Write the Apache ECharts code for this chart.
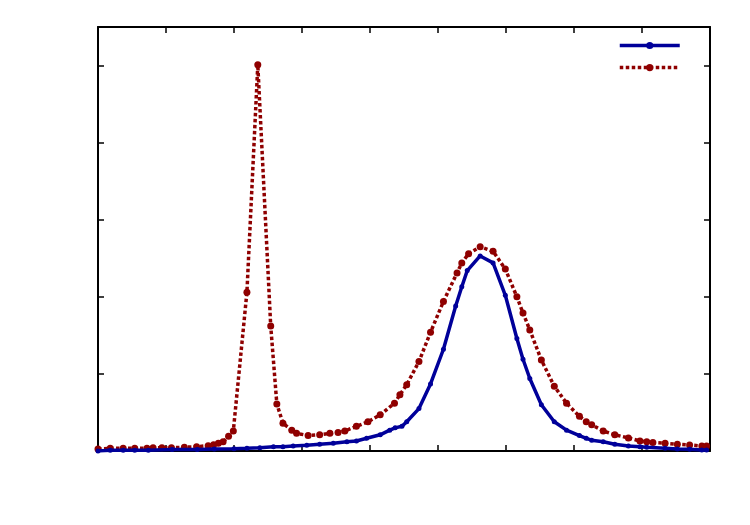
<!DOCTYPE html>
<html>
<head>
<meta charset="utf-8">
<script src="https://cdn.jsdelivr.net/npm/echarts@6/dist/echarts.min.js"></script>
<style>
  html, body { margin: 0; padding: 0; background: #fff; }
  #main { width: 750px; height: 525px; }
</style>
</head>
<body>
<div id="main"></div>
<script>
// blue solid curve, [x, y]
var blueData = [
  [0, 0.00], [0.18, 0.01], [0.37, 0.01], [0.54, 0.01], [0.74, 0.01], [1.09, 0.02],
  [1.46, 0.02], [1.71, 0.025], [2.0, 0.03], [2.19, 0.035], [2.38, 0.043], [2.58, 0.056],
  [2.72, 0.056], [2.87, 0.065], [3.07, 0.074], [3.26, 0.087], [3.46, 0.10], [3.66, 0.12],
  [3.80, 0.13], [3.95, 0.165], [4.15, 0.21], [4.29, 0.27], [4.37, 0.30], [4.47, 0.32],
  [4.54, 0.38], [4.72, 0.55], [4.89, 0.87], [5.08, 1.32], [5.26, 1.88], [5.35, 2.13],
  [5.43, 2.34], [5.62, 2.53], [5.81, 2.44], [5.99, 2.02], [6.16, 1.46], [6.25, 1.19],
  [6.35, 0.94], [6.52, 0.60], [6.71, 0.38], [6.89, 0.27], [7.08, 0.20], [7.18, 0.165],
  [7.26, 0.14], [7.43, 0.12], [7.60, 0.087], [7.80, 0.065], [7.97, 0.056], [8.07, 0.048],
  [8.34, 0.035], [8.52, 0.026], [8.70, 0.022], [8.88, 0.013], [8.95, 0.013]
];
// red dotted curve, [x, y]
var redData = [
  [0.00, 0.026], [0.18, 0.035], [0.37, 0.035], [0.54, 0.035], [0.72, 0.035], [0.81, 0.043],
  [0.94, 0.043], [1.08, 0.043], [1.27, 0.048], [1.45, 0.056], [1.62, 0.069], [1.70, 0.082],
  [1.77, 0.10], [1.84, 0.12], [1.92, 0.19], [1.99, 0.26], [2.19, 2.06], [2.35, 5.01],
  [2.54, 1.62], [2.63, 0.61], [2.72, 0.36], [2.85, 0.27], [2.92, 0.23], [3.09, 0.20],
  [3.26, 0.21], [3.41, 0.23], [3.53, 0.24], [3.63, 0.26], [3.80, 0.32], [3.97, 0.38],
  [4.15, 0.47], [4.36, 0.62], [4.44, 0.73], [4.54, 0.86], [4.72, 1.16], [4.89, 1.54],
  [5.08, 1.94], [5.28, 2.31], [5.35, 2.44], [5.45, 2.56], [5.62, 2.65], [5.81, 2.59],
  [5.99, 2.36], [6.16, 2.00], [6.25, 1.79], [6.35, 1.57], [6.52, 1.18], [6.71, 0.84],
  [6.89, 0.62], [7.08, 0.45], [7.18, 0.38], [7.26, 0.34], [7.43, 0.26], [7.60, 0.21],
  [7.80, 0.17], [7.97, 0.13], [8.07, 0.12], [8.16, 0.11], [8.34, 0.10], [8.52, 0.087],
  [8.70, 0.078], [8.88, 0.065], [8.95, 0.065]
];
var seriesNames = ['curve1', 'curve2'];

var myChart = echarts.init(document.getElementById('main'));

function frameAxis(pos, isX) {
  var ax = {
    type: 'value',
    position: pos,
    min: 0,
    max: isX ? 9 : 5.5,
    interval: 1,
    axisLine: { show: true, onZero: false, lineStyle: { color: '#000', width: 2 } },
    axisTick: { show: true, inside: true, length: 6, lineStyle: { color: '#000', width: 1.5 } },
    axisLabel: { show: false },
    splitLine: { show: false }
  };
  return ax;
}

var option = {
  animation: false,
  backgroundColor: '#fff',
  grid: { left: 98, right: 40, top: 27, bottom: 74 },
  legend: {
    left: 613,
    top: 36,
    orient: 'vertical',
    itemWidth: 60,
    itemHeight: 9,
    itemGap: 14,
    lineStyle: { width: 3.5 },
    formatter: function () { return ''; },
    data: seriesNames
  },
  xAxis: [frameAxis('bottom', true), frameAxis('top', true)],
  yAxis: [frameAxis('left', false), frameAxis('right', false)],
  series: [
    {
      name: seriesNames[0],
      type: 'line',
      data: blueData,
      symbol: 'circle',
      symbolSize: 5,
      itemStyle: { color: '#00009a' },
      lineStyle: { color: '#00009a', width: 3.5 },
      z: 3
    },
    {
      name: seriesNames[1],
      type: 'line',
      data: redData,
      symbol: 'circle',
      symbolSize: 7,
      itemStyle: { color: '#8f0000' },
      lineStyle: { color: '#8f0000', width: 3.5, type: [3.5, 2.5], cap: 'butt' },
      z: 2
    }
  ]
};

myChart.setOption(option);
</script>
</body>
</html>
